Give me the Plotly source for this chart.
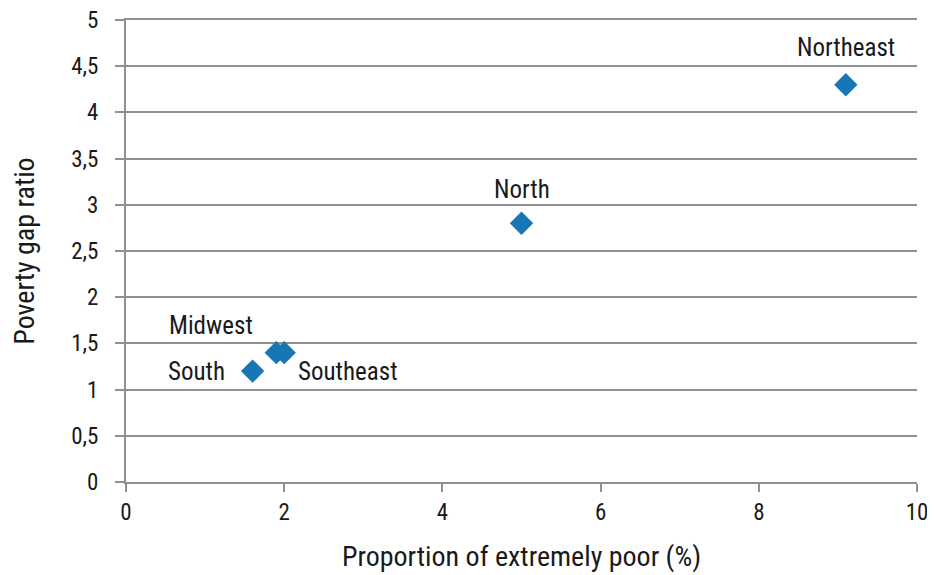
import plotly.graph_objects as go

regions = ["South", "Midwest", "Southeast", "North", "Northeast"]
extreme_poor = [1.6, 1.9, 2.0, 5.0, 9.1]
poverty_gap = [1.2, 1.4, 1.4, 2.8, 4.3]
label_xanchor = ["right", "right", "left", "center", "center"]
label_xshift = [-26, -21, 12, 0, 0]
label_yshift = [0, 27, -19, 34, 37]

x_ticks = [0, 2, 4, 6, 8, 10]
y_ticks = [0, 0.5, 1, 1.5, 2, 2.5, 3, 3.5, 4, 4.5, 5]

FONT = "Liberation Sans Narrow, Roboto Condensed, Arial Narrow, Liberation Sans, sans-serif"
GRID = "#8f9090"
FS = 25
TFS = 23
TITLE_FS = 28

fig = go.Figure()
fig.add_trace(go.Scatter(
    x=extreme_poor, y=poverty_gap, mode="markers",
    marker=dict(symbol="diamond", size=18, color="#1677b4"),
    hoverinfo="skip", showlegend=False, cliponaxis=False,
))

for r, xv, yv, xa, xs, ys in zip(regions, extreme_poor, poverty_gap, label_xanchor, label_xshift, label_yshift):
    fig.add_annotation(x=xv, y=yv, text=r, showarrow=False, xanchor=xa, yanchor="middle",
                       xshift=xs, yshift=ys, font=dict(family=FONT, size=FS, color="#1a1a1a"))

# page body has an 8px default margin, so the figure is sized/offset to compensate
fig.update_layout(
    width=927, height=567,
    margin=dict(l=118, r=18, t=12, b=93, autoexpand=False),
    paper_bgcolor="white", plot_bgcolor="white",
    separators=",.",
    font=dict(family=FONT, size=FS, color="#1a1a1a"),
)
fig.update_xaxes(
    range=[0, 10], tickvals=x_ticks, showgrid=False, zeroline=False, automargin=False,
    showline=True, mirror=True, linecolor=GRID, linewidth=2,
    ticks="outside", ticklen=8, tickwidth=2, tickcolor=GRID,
    ticklabeloverflow="allow",
    title=dict(text="Proportion of extremely poor (%)", standoff=22,
               font=dict(family=FONT, size=TITLE_FS, color="#1a1a1a")),
    tickfont=dict(size=TFS),
)
fig.update_yaxes(
    range=[0, 5], tickvals=y_ticks, showgrid=True, gridcolor=GRID, gridwidth=2,
    zeroline=False, showline=True, linecolor=GRID, linewidth=2, automargin=False,
    ticks="outside", ticklen=9, tickwidth=2, tickcolor=GRID, ticklabelstandoff=12,
    ticklabeloverflow="allow",
    title=dict(text="Poverty gap ratio", standoff=40,
               font=dict(family=FONT, size=TITLE_FS, color="#1a1a1a")),
    tickfont=dict(size=TFS),
)

fig.write_html("out.html")
